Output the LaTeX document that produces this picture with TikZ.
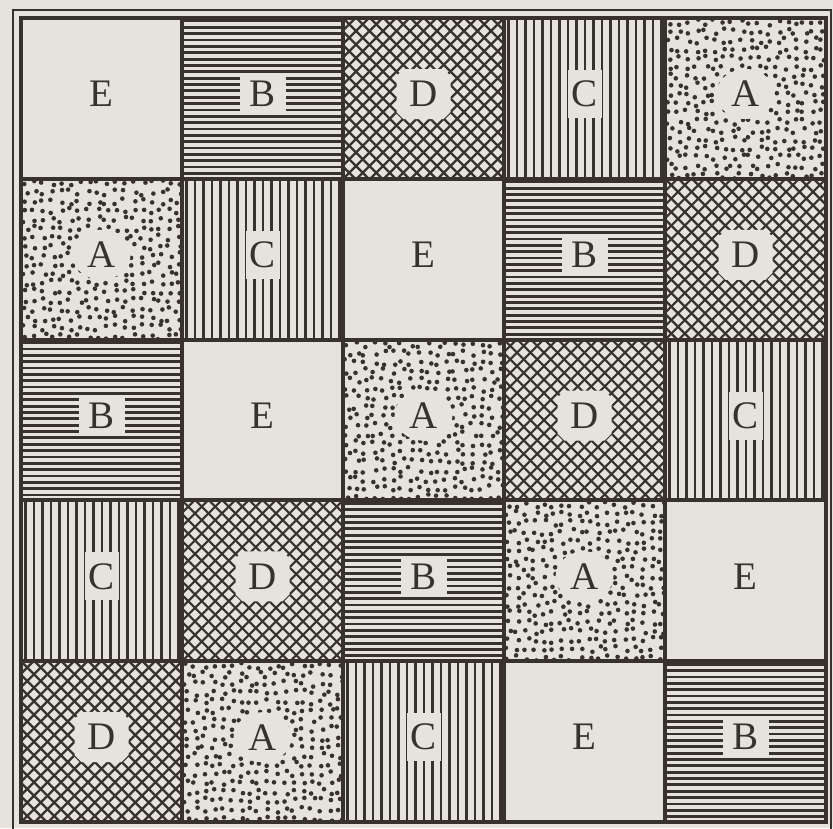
\documentclass[tikz,border=0pt]{standalone}
\usepackage{fontspec}
\setmainfont{Liberation Serif}
\definecolor{paper}{RGB}{229,227,219}
\definecolor{ink}{RGB}{55,50,46}
\tikzset{
  letter/.style={font=\fontsize{39}{44}\selectfont, text=ink, inner sep=0pt},
  hatch/.style={draw=ink, line width=2.8pt},
  gridline/.style={draw=ink, line width=4pt},
  dot/.style={fill=ink},
}
\newcommand\cw{161}
\newcommand\ch{160.8}
% letter centre offset inside a cell
\newcommand\ox{80.5}
\newcommand\oy{76}
% A: dots
\newcommand\patA[2]{%
  \begin{scope}
    \clip (#1,#2) rectangle ++(\cw,\ch);
    \foreach \i in {0,...,17}{\foreach \j in {0,...,17}{%
      \pgfmathsetmacro\px{#1+\i*9+4.5+3*rand}%
      \pgfmathsetmacro\py{#2+\j*9+4.5+3*rand}%
      \fill[dot] (\px,\py) circle[radius=2.3pt];}}
    \fill[paper] (#1+\ox,#2+\oy) ellipse (29pt and 25pt);
  \end{scope}}
% B: horizontal lines
\newcommand\patB[2]{%
  \begin{scope}
    \clip (#1,#2) rectangle ++(\cw,\ch);
    \foreach \k in {0,...,25}{\draw[hatch] (#1,#2+3+\k*6.35) -- ++(\cw,0);}
    \fill[paper] (#1+\ox-23,#2+\oy-18) rectangle ++(46,36);
  \end{scope}}
% C: vertical lines
\newcommand\patC[2]{%
  \begin{scope}
    \clip (#1,#2) rectangle ++(\cw,\ch);
    \foreach \k in {0,...,18}{\draw[hatch] (#1+4.5+\k*8.5,#2) -- ++(0,\ch);}
    \fill[paper] (#1+\ox-17,#2+\oy-24) rectangle ++(34,48);
  \end{scope}}
% D: crosshatch
\newcommand\patD[2]{%
  \begin{scope}
    \clip (#1,#2) rectangle ++(\cw,\ch);
    \foreach \k in {-13,...,13}{%
      \draw[hatch, line width=2.2pt] (#1+\k*13.5,#2) -- ++(165,165);
      \draw[hatch, line width=2.2pt] (#1+\cw-\k*13.5,#2) -- ++(-165,165);}
    \fill[paper] (#1+\ox-20,#2+\oy-25) -- ++(40,0) -- ++(7,7) -- ++(0,36)
      -- ++(-7,7) -- ++(-40,0) -- ++(-7,-7) -- ++(0,-36) -- cycle;
  \end{scope}}
\newcommand\patE[2]{}
\newcommand\cell[3]{%
  \pgfmathsetmacro\cx{21+(#2-1)*\cw}%
  \pgfmathsetmacro\cy{18+(#1-1)*\ch}%
  \csname pat#3\endcsname{\cx}{\cy}%
  \node[letter] (L#1#2) at (\cx+\ox,\cy+\oy) {#3};}
\begin{document}
\begin{tikzpicture}[x=1pt,y=-1pt]
\pgfmathsetseed{4242}
\useasboundingbox (0,0) rectangle (833,828);
\fill[paper] (0,0) rectangle (833,828);
% row 1
\cell{1}{1}{E}\cell{1}{2}{B}\cell{1}{3}{D}\cell{1}{4}{C}\cell{1}{5}{A}
% row 2
\cell{2}{1}{A}\cell{2}{2}{C}\cell{2}{3}{E}\cell{2}{4}{B}\cell{2}{5}{D}
% row 3
\cell{3}{1}{B}\cell{3}{2}{E}\cell{3}{3}{A}\cell{3}{4}{D}\cell{3}{5}{C}
% row 4
\cell{4}{1}{C}\cell{4}{2}{D}\cell{4}{3}{B}\cell{4}{4}{A}\cell{4}{5}{E}
% row 5
\cell{5}{1}{D}\cell{5}{2}{A}\cell{5}{3}{C}\cell{5}{4}{E}\cell{5}{5}{B}
% grid
\foreach \c in {0,...,5}{\draw[gridline] (21+\c*\cw,16) -- (21+\c*\cw,824);}
\foreach \r in {0,...,5}{\draw[gridline] (19,18+\r*\ch) -- (828,18+\r*\ch);}
% outer thin frame
\draw[ink, line width=1.8pt] (13,10) rectangle (831,830);
\end{tikzpicture}
\end{document}
